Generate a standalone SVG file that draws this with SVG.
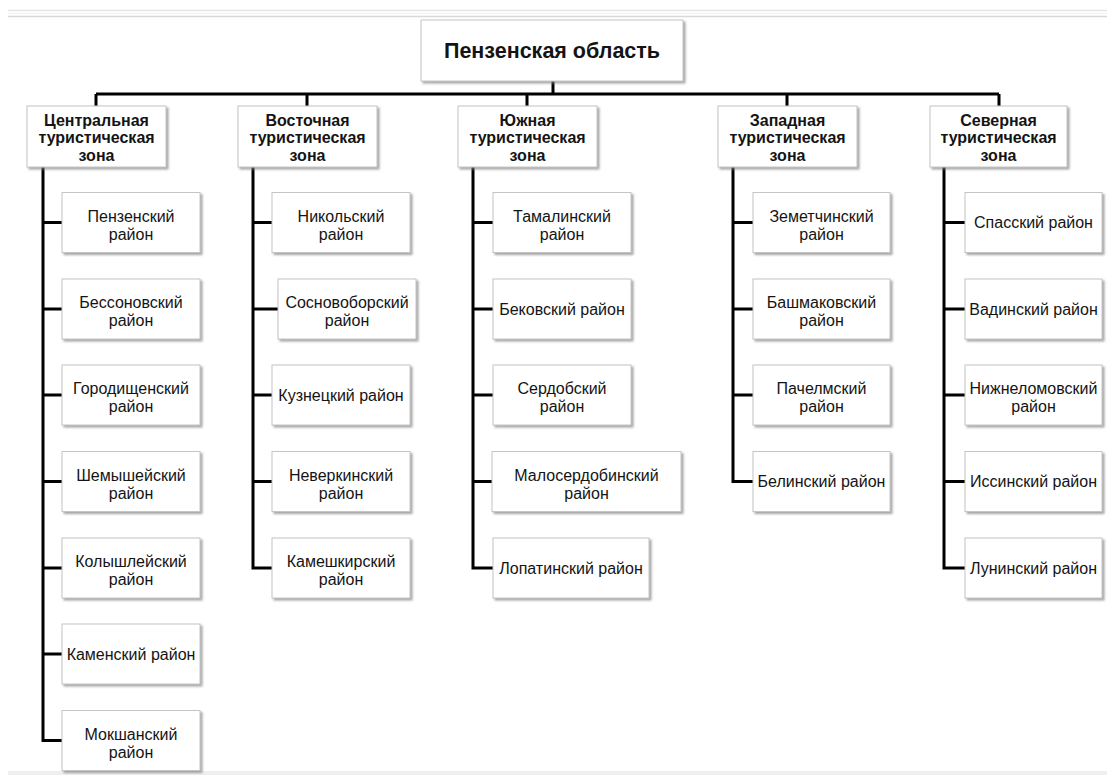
<svg xmlns="http://www.w3.org/2000/svg" width="1107" height="775" viewBox="0 0 1107 775">
<defs>
<filter id="sh" x="-10%" y="-10%" width="130%" height="140%">
<feDropShadow dx="2" dy="2" stdDeviation="1.2" flood-color="#7f7f7f" flood-opacity="0.7"/>
</filter>
<style>
.box{fill:#fff;stroke:#c4c4c4;stroke-width:1;filter:url(#sh)}
.t{font-family:"Liberation Sans",Arial,sans-serif;font-size:16px;fill:#141414;text-anchor:middle}
.b{font-weight:bold}
.r{font-size:21.5px}
.c{fill:none;stroke:#000;stroke-width:3;stroke-linejoin:miter;stroke-linecap:butt}
</style>
</defs>
<rect width="1107" height="775" fill="#fff"/>
<line x1="8" y1="10.5" x2="1107" y2="10.5" stroke="#e4e4e4" stroke-width="1.5"/>
<line x1="8" y1="13.5" x2="1107" y2="13.5" stroke="#f2f2f2" stroke-width="1"/>
<line x1="8" y1="16.5" x2="1107" y2="16.5" stroke="#d8d8d8" stroke-width="1.5"/>
<rect x="8" y="771" width="1099" height="4" fill="#efefef"/>

<g id="connectors">
<path class="c" d="M553 81V94M96 94H999M96 94V106M307 94V106M527 94V106M787 94V106M999 94V106"/>
<path class="c" d="M43 167V740.5H62M43 222.5H62M43 309H62M43 395H62M43 481.5H62M43 568H62M43 654H62"/>
<path class="c" d="M253 167V568H272M253 222.5H272M253 309H278M253 395H272M253 481.5H272"/>
<path class="c" d="M473 167V568H493M473 222.5H493M473 309H493M473 395H493M473 481.5H492"/>
<path class="c" d="M733 167V481.5H753M733 222.5H753M733 309H753M733 395H753"/>
<path class="c" d="M944 167V568H965M944 222.5H965M944 309H965M944 395H965M944 481.5H965"/>
</g>

<g id="root"><rect class="box" x="421" y="20" width="262" height="61"/><text class="t b r" x="552" y="57.5">Пензенская область</text></g>

<g id="zone-central"><rect class="box" x="27" y="106" width="139" height="61"/><text class="t b" x="96.5" y="125.5">Центральная</text><text class="t b" x="96.5" y="143">туристическая</text><text class="t b" x="96.5" y="160.5">зона</text></g>
<g id="zone-east"><rect class="box" x="238" y="106" width="139" height="61"/><text class="t b" x="307.5" y="125.5">Восточная</text><text class="t b" x="307.5" y="143">туристическая</text><text class="t b" x="307.5" y="160.5">зона</text></g>
<g id="zone-south"><rect class="box" x="458" y="106" width="139" height="61"/><text class="t b" x="527.5" y="125.5">Южная</text><text class="t b" x="527.5" y="143">туристическая</text><text class="t b" x="527.5" y="160.5">зона</text></g>
<g id="zone-west"><rect class="box" x="718" y="106" width="139" height="61"/><text class="t b" x="787.5" y="125.5">Западная</text><text class="t b" x="787.5" y="143">туристическая</text><text class="t b" x="787.5" y="160.5">зона</text></g>
<g id="zone-north"><rect class="box" x="930" y="106" width="137" height="61"/><text class="t b" x="998.5" y="125.5">Северная</text><text class="t b" x="998.5" y="143">туристическая</text><text class="t b" x="998.5" y="160.5">зона</text></g>

<g id="penzensky"><rect class="box" x="62" y="192.5" width="138" height="60"/><text class="t" x="131" y="221.5">Пензенский</text><text class="t" x="131" y="239.5">район</text></g>
<g id="bessonovsky"><rect class="box" x="62" y="279" width="138" height="60"/><text class="t" x="131" y="308">Бессоновский</text><text class="t" x="131" y="326">район</text></g>
<g id="gorodishchensky"><rect class="box" x="62" y="365" width="138" height="60"/><text class="t" x="131" y="394">Городищенский</text><text class="t" x="131" y="412">район</text></g>
<g id="shemysheysky"><rect class="box" x="62" y="451.5" width="138" height="60"/><text class="t" x="131" y="480.5">Шемышейский</text><text class="t" x="131" y="498.5">район</text></g>
<g id="kolyshleysky"><rect class="box" x="62" y="538" width="138" height="60"/><text class="t" x="131" y="567">Колышлейский</text><text class="t" x="131" y="585">район</text></g>
<g id="kamensky"><rect class="box" x="62" y="624" width="138" height="60"/><text class="t" x="131" y="659.5">Каменский район</text></g>
<g id="mokshansky"><rect class="box" x="62" y="710.5" width="138" height="60"/><text class="t" x="131" y="739.5">Мокшанский</text><text class="t" x="131" y="757.5">район</text></g>

<g id="nikolsky"><rect class="box" x="272" y="192.5" width="138" height="60"/><text class="t" x="341" y="221.5">Никольский</text><text class="t" x="341" y="239.5">район</text></g>
<g id="sosnovoborsky"><rect class="box" x="278" y="279" width="138" height="60"/><text class="t" x="347" y="308">Сосновоборский</text><text class="t" x="347" y="326">район</text></g>
<g id="kuznetsky"><rect class="box" x="272" y="365" width="138" height="60"/><text class="t" x="341" y="400.5">Кузнецкий район</text></g>
<g id="neverkinsky"><rect class="box" x="272" y="451.5" width="138" height="60"/><text class="t" x="341" y="480.5">Неверкинский</text><text class="t" x="341" y="498.5">район</text></g>
<g id="kameshkirsky"><rect class="box" x="272" y="538" width="138" height="60"/><text class="t" x="341" y="567">Камешкирский</text><text class="t" x="341" y="585">район</text></g>

<g id="tamalinsky"><rect class="box" x="493" y="192.5" width="138" height="60"/><text class="t" x="562" y="221.5">Тамалинский</text><text class="t" x="562" y="239.5">район</text></g>
<g id="bekovsky"><rect class="box" x="493" y="279" width="138" height="60"/><text class="t" x="562" y="314.5">Бековский район</text></g>
<g id="serdobsky"><rect class="box" x="493" y="365" width="138" height="60"/><text class="t" x="562" y="394">Сердобский</text><text class="t" x="562" y="412">район</text></g>
<g id="maloserdobinsky"><rect class="box" x="492" y="451.5" width="189" height="60"/><text class="t" x="586.5" y="480.5">Малосердобинский</text><text class="t" x="586.5" y="498.5">район</text></g>
<g id="lopatinsky"><rect class="box" x="493" y="538" width="156" height="60"/><text class="t" x="571" y="573.5">Лопатинский район</text></g>

<g id="zemetchinsky"><rect class="box" x="753" y="192.5" width="137" height="60"/><text class="t" x="821.5" y="221.5">Земетчинский</text><text class="t" x="821.5" y="239.5">район</text></g>
<g id="bashmakovsky"><rect class="box" x="753" y="279" width="137" height="60"/><text class="t" x="821.5" y="308">Башмаковский</text><text class="t" x="821.5" y="326">район</text></g>
<g id="pachelmsky"><rect class="box" x="753" y="365" width="137" height="60"/><text class="t" x="821.5" y="394">Пачелмский</text><text class="t" x="821.5" y="412">район</text></g>
<g id="belinsky"><rect class="box" x="753" y="451.5" width="137" height="60"/><text class="t" x="821.5" y="487">Белинский район</text></g>

<g id="spassky"><rect class="box" x="965" y="192.5" width="137" height="60"/><text class="t" x="1033.5" y="228">Спасский район</text></g>
<g id="vadinsky"><rect class="box" x="965" y="279" width="137" height="60"/><text class="t" x="1033.5" y="314.5">Вадинский район</text></g>
<g id="nizhnelomovsky"><rect class="box" x="965" y="365" width="137" height="60"/><text class="t" x="1033.5" y="394">Нижнеломовский</text><text class="t" x="1033.5" y="412">район</text></g>
<g id="issinsky"><rect class="box" x="965" y="451.5" width="137" height="60"/><text class="t" x="1033.5" y="487">Иссинский район</text></g>
<g id="luninsky"><rect class="box" x="965" y="538" width="137" height="60"/><text class="t" x="1033.5" y="573.5">Лунинский район</text></g>
</svg>
